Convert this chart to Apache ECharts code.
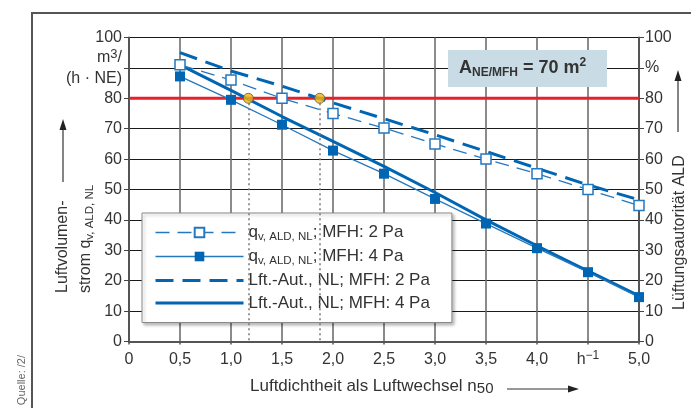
<!DOCTYPE html>
<html><head><meta charset="utf-8">
<script src="https://cdn.jsdelivr.net/npm/echarts@6/dist/echarts.min.js"></script>
<style>html,body{margin:0;padding:0;background:#fff}#c{width:691px;height:408px}</style>
</head><body><div id="c"></div>
<script>
// ---- data ----
const xValues = [0.5, 1.0, 1.5, 2.0, 2.5, 3.0, 3.5, 4.0, 4.5, 5.0];
const qv2Pa  = [91, 86, 80, 75, 70.2, 65, 60, 55.2, 50, 44.7];
const qv4Pa  = [87.2, 79.5, 71.3, 62.8, 55.2, 46.9, 38.8, 30.7, 22.8, 14.6];
const aut2Pa = [95, 89, 84, 78.5, 73.3, 68, 62.5, 57, 51.5, 46.6];
const aut4Pa = [91, 82.6, 74, 65.8, 57.6, 49, 40, 31.5, 23.2, 15];
const limitX = [0, 5];
const limitY = [80, 80];
const crossX = [1.17, 1.87];
const crossY = [80, 80];
const xTickLabels = ['0', '0,5', '1,0', '1,5', '2,0', '2,5', '3,0', '3,5', '4,0', 'h-1', '5,0'];
const leftTickLabels = ['0', '10', '20', '30', '40', '50', '60', '70', '80', '', '100'];
const rightTickLabels = ['0', '10', '20', '30', '40', '50', '60', '70', '80', '%', '100'];
const seriesNames = ['q2', 'q4', 'a2', 'a4'];
const legendLabels = {
  q2: '{t|q}{s|v, ALD, NL}{t|; MFH: 2 Pa}',
  q4: '{t|q}{s|v, ALD, NL}{t|; MFH: 4 Pa}',
  a2: '{t|Lft.-Aut., NL; MFH: 2 Pa}',
  a4: '{t|Lft.-Aut., NL; MFH: 4 Pa}'
};

const FONT = 'Liberation Sans, Arial, sans-serif';
const TXT = '#333';
const BLUE = '#0066b3';
const BLUE_THIN = '#2478c0';
const pairs = (xs, ys) => xs.map((x, i) => [x, ys[i]]);

const chart = echarts.init(document.getElementById('c'), null, {renderer: 'canvas'});

const yAxisBase = {
  type: 'value', min: 0, max: 100, interval: 10,
  axisLine: {show: true, lineStyle: {color: '#555', width: 2}},
  axisTick: {show: true, length: 5, lineStyle: {color: '#444', width: 1}},
};

chart.setOption({
  animation: false,
  backgroundColor: '#fff',
  textStyle: {fontFamily: FONT},
  grid: {left: 129, right: 52, top: 37.5, bottom: 66.5, containLabel: false},
  xAxis: {
    type: 'value', min: 0, max: 5, interval: 0.5,
    axisLine: {show: true, onZero: false, lineStyle: {color: '#555', width: 2}},
    axisTick: {show: true, length: 3, lineStyle: {color: '#555', width: 1.5}},
    splitLine: {show: true, lineStyle: {color: '#6e6e6e', width: 1.6}},
    axisLabel: {
      margin: 8, fontSize: 16, color: TXT, fontFamily: FONT,
      formatter: v => {
        const l = xTickLabels[Math.round(v / 0.5)];
        return l === 'h-1' ? '{h|h}{e|−1}' : '{h|' + l + '}';
      },
      rich: {
        h: {fontSize: 16, color: TXT, fontFamily: FONT, lineHeight: 20},
        e: {fontSize: 12, color: TXT, fontFamily: FONT, lineHeight: 12, verticalAlign: 'top'}
      }
    }
  },
  yAxis: [
    Object.assign({}, yAxisBase, {
      position: 'left',
      splitLine: {show: true, lineStyle: {color: '#1a1a1a', width: 1}},
      axisLabel: {margin: 7, fontSize: 16, color: TXT, fontFamily: FONT,
        formatter: v => leftTickLabels[Math.round(v / 10)]}
    }),
    Object.assign({}, yAxisBase, {
      position: 'right',
      splitLine: {show: false},
      axisLabel: {margin: 6, fontSize: 16, color: TXT, fontFamily: FONT,
        formatter: v => rightTickLabels[Math.round(v / 10)]}
    })
  ],
  legend: {
    orient: 'vertical', left: 142, top: 213,
    padding: [11, 22, 11, 12],
    itemWidth: 88, itemHeight: 12, itemGap: 5.5, itemTextGap: 11,
    backgroundColor: '#fff', borderColor: '#8a8a8a', borderWidth: 1,
    shadowColor: 'rgba(0,0,0,0.25)', shadowBlur: 3, shadowOffsetX: 2, shadowOffsetY: 2,
    formatter: n => legendLabels[n],
    textStyle: {
      color: TXT, fontFamily: FONT, fontSize: 17,
      rich: {
        t: {fontSize: 17, color: TXT, fontFamily: FONT, lineHeight: 20},
        s: {fontSize: 11.5, color: TXT, fontFamily: FONT, lineHeight: 9, verticalAlign: 'bottom'}
      }
    },
    data: [
      {name: 'q2', lineStyle: {width: 1.3, type: [14, 8], color: BLUE_THIN}},
      {name: 'q4', lineStyle: {width: 1.3, type: 'solid', color: BLUE_THIN}},
      {name: 'a2', lineStyle: {width: 3, type: [18, 9], color: BLUE}, itemStyle: {opacity: 0, color: 'rgba(0,0,0,0)', borderWidth: 0}},
      {name: 'a4', lineStyle: {width: 3, type: 'solid', color: BLUE}, itemStyle: {opacity: 0, color: 'rgba(0,0,0,0)', borderWidth: 0}}
    ]
  },
  graphic: [
    // outer frame
    {type: 'polyline', silent: true, shape: {points: [[32, 408], [32, 13], [691, 13]]},
      style: {stroke: '#555', lineWidth: 2, fill: null}},
    {type: 'text', x: 21.5, y: 355, rotation: Math.PI / 2,
      style: {text: 'Quelle: /2/', fontSize: 11, fill: '#666', fontFamily: FONT, align: 'right', verticalAlign: 'middle'}},
    // unit labels on the left axis
    {type: 'text', x: 122, y: 58,
      style: {text: '{a|m}{e|3}{a|/}', align: 'right', verticalAlign: 'middle',
        rich: {a: {fontSize: 16, fill: TXT, fontFamily: FONT, lineHeight: 20},
               e: {fontSize: 13, fill: TXT, fontFamily: FONT, lineHeight: 12, verticalAlign: 'top'}}}},
    {type: 'text', x: 122, y: 79,
      style: {text: '(h · NE)', fontSize: 16, fill: TXT, fontFamily: FONT, align: 'right', verticalAlign: 'middle'}},
    // left axis title
    {type: 'text', x: 63, y: 293, rotation: Math.PI / 2,
      style: {text: 'Luftvolumen-', fontSize: 16, fill: TXT, fontFamily: FONT, align: 'left', verticalAlign: 'middle'}},
    {type: 'text', x: 86, y: 293, rotation: Math.PI / 2,
      style: {text: '{a|strom q}{s|v, ALD, NL}', align: 'left', verticalAlign: 'middle',
        rich: {a: {fontSize: 16, fill: TXT, fontFamily: FONT, lineHeight: 20},
               s: {fontSize: 11.5, fill: TXT, fontFamily: FONT, lineHeight: 9, verticalAlign: 'bottom'}}}},
    {type: 'line', shape: {x1: 63, y1: 182, x2: 63, y2: 128}, style: {stroke: '#333', lineWidth: 1.2}},
    {type: 'polygon', shape: {points: [[63, 119], [59.5, 130], [66.5, 130]]}, style: {fill: '#222'}},
    // right axis title
    {type: 'text', x: 680, y: 310, rotation: Math.PI / 2,
      style: {text: 'Lüftungsautorität ALD', fontSize: 16, fill: TXT, fontFamily: FONT, align: 'left', verticalAlign: 'middle'}},
    {type: 'line', shape: {x1: 678, y1: 132, x2: 678, y2: 78}, style: {stroke: '#333', lineWidth: 1.2}},
    {type: 'polygon', shape: {points: [[678, 70], [674.5, 81], [681.5, 81]]}, style: {fill: '#222'}},
    // bottom axis title
    {type: 'text', x: 250, y: 386,
      style: {text: '{a|Luftdichtheit als Luftwechsel n}{s|50}', align: 'left', verticalAlign: 'middle',
        rich: {a: {fontSize: 17, fill: TXT, fontFamily: FONT, lineHeight: 20},
               s: {fontSize: 15, fill: TXT, fontFamily: FONT, lineHeight: 14, verticalAlign: 'bottom'}}}},
    {type: 'line', shape: {x1: 507, y1: 389, x2: 570, y2: 389}, style: {stroke: '#333', lineWidth: 1.2}},
    {type: 'polygon', shape: {points: [[579, 389], [568, 385.5], [568, 392.5]]}, style: {fill: '#222'}},
    // annotation box
    {type: 'rect', shape: {x: 448, y: 50, width: 159, height: 37}, style: {fill: '#c9dbe4'}, z: 50},
    {type: 'text', x: 459, y: 68, z: 51,
      style: {text: '{a|A}{s|NE/MFH}{a| = 70 m}{e|2}', align: 'left', verticalAlign: 'middle',
        rich: {a: {fontSize: 18, fontWeight: 'bold', fill: '#333', fontFamily: FONT, lineHeight: 22},
               s: {fontSize: 12, fontWeight: 'bold', fill: '#333', fontFamily: FONT, lineHeight: 10, verticalAlign: 'bottom'},
               e: {fontSize: 12, fontWeight: 'bold', fill: '#333', fontFamily: FONT, lineHeight: 12, verticalAlign: 'top'}}}}
  ],
  series: [
    {name: 'limit', type: 'line', data: pairs(limitX, limitY), symbol: 'none', silent: true, z: 2,
      lineStyle: {color: '#e8202a', width: 3}},
    {name: 'q2', type: 'line', data: pairs(xValues, qv2Pa), yAxisIndex: 0, z: 4,
      symbol: 'rect', symbolSize: 10,
      itemStyle: {color: '#fff', borderColor: BLUE_THIN, borderWidth: 1.5},
      lineStyle: {color: BLUE_THIN, width: 1.3, type: [14, 8]}},
    {name: 'q4', type: 'line', data: pairs(xValues, qv4Pa), z: 4,
      symbol: 'rect', symbolSize: 10,
      itemStyle: {color: BLUE},
      lineStyle: {color: BLUE_THIN, width: 1.3}},
    {name: 'a2', type: 'line', data: pairs(xValues, aut2Pa), z: 3, symbol: 'none',
      itemStyle: {color: BLUE},
      lineStyle: {color: BLUE, width: 3, type: [18, 9]}},
    {name: 'a4', type: 'line', data: pairs(xValues, aut4Pa), z: 3, symbol: 'none',
      itemStyle: {color: BLUE},
      lineStyle: {color: BLUE, width: 3}},
    {name: 'cross', type: 'scatter', data: pairs(crossX, crossY), z: 6,
      symbol: 'circle', symbolSize: 10,
      itemStyle: {color: '#f5b20d', borderColor: '#555', borderWidth: 1},
      markLine: {
        silent: true, symbol: 'none', label: {show: false},
        lineStyle: {color: '#777', type: [2, 3], width: 1.5},
        data: crossX.map((x, i) => [{coord: [x, crossY[i]]}, {coord: [x, 0]}])
      }}
  ]
});
</script>
</body></html>
